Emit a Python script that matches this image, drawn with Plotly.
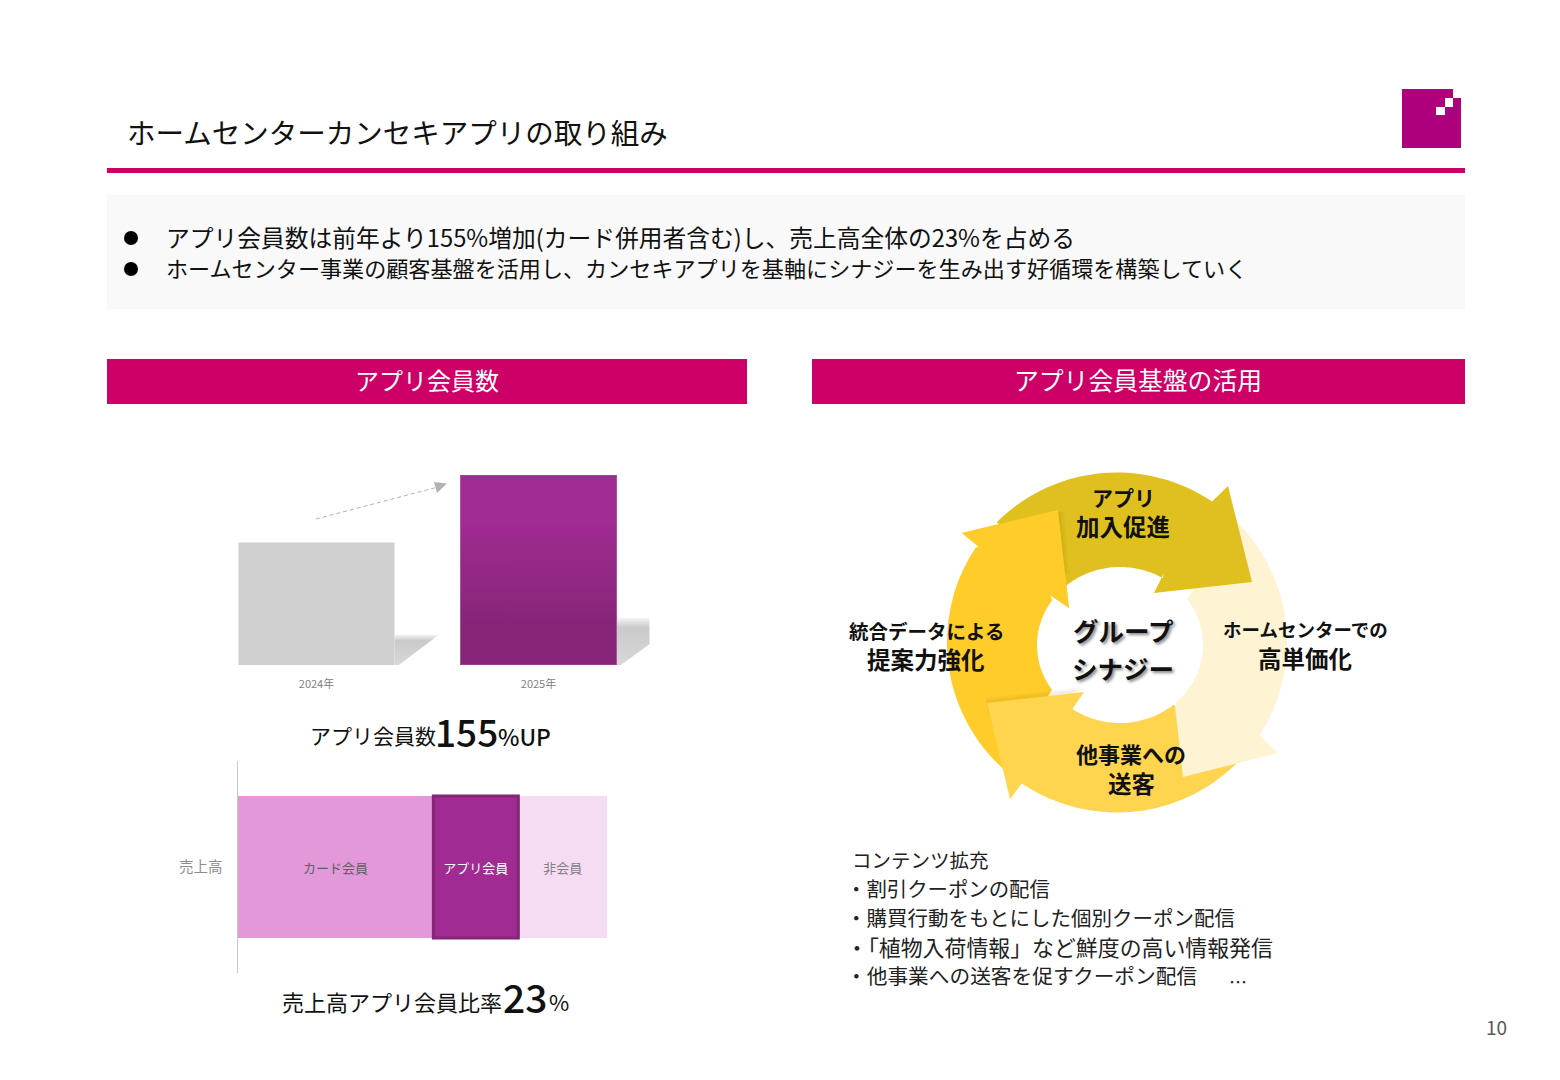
import numpy as np
import plotly.graph_objects as go

# ---------- data ----------
years = ["2024年", "2025年"]
members = [100, 155]
seg_names = ["カード会員", "アプリ会員", "非会員"]
seg_values = [53, 23, 24]
seg_category = ["売上高"]
title_text = "ホームセンターカンセキアプリの取り組み"
bullets = ["アプリ会員数は前年より155%増加(カード併用者含む)し、売上高全体の23%を占める",
           "ホームセンター事業の顧客基盤を活用し、カンセキアプリを基軸にシナジーを生み出す好循環を構築していく"]
contents = ["コンテンツ拡充", "・割引クーポンの配信", "・購買行動をもとにした個別クーポン配信",
            "・「植物入荷情報」など鮮度の高い情報発信", "・他事業への送客を促すクーポン配信"]

W, H = 1560, 1080
FONT = "Noto Sans CJK JP"
PINK = "#CC0066"
BLACK = "#111111"

fig = go.Figure()
shapes, notes = [], []


def rect(x0, y0, x1, y1, color, line=None, layer="below"):
    shapes.append(dict(type="rect", xref="x", yref="y", x0=x0, y0=y0, x1=x1, y1=y1, fillcolor=color,
                       line=dict(width=0) if line is None else line, layer=layer))


def poly(pts, color, opacity=1.0):
    d = "M " + " L ".join(f"{a:.1f},{b:.1f}" for a, b in pts) + " Z"
    shapes.append(dict(type="path", xref="x", yref="y", path=d, fillcolor=color, opacity=opacity,
                       line=dict(width=0), layer="below"))


def txt(x, y, s, size, color=BLACK, anchor="left", weight=400, shadow=None):
    f = dict(family=FONT, size=size, color=color, weight=weight)
    if shadow:
        f["shadow"] = shadow
    notes.append(dict(xref="x", yref="y", x=x, y=y - 2, text=s, showarrow=False, xanchor=anchor, yanchor="middle",
                      font=f, borderpad=0, borderwidth=0))


# ---------- slide furniture ----------
rect(1402, 89, 1461, 148, "#AE007C")
rect(1453, 89, 1462, 98, "#FFFFFF")
rect(1436, 107, 1445, 115, "#FFFFFF")
rect(1445, 98, 1453, 107, "#FFFFFF")
rect(107, 168, 1465, 173, PINK)
rect(107, 195, 1465, 309, "#F9F9F9")
rect(107, 359, 747, 404, PINK)
rect(812, 359, 1465, 404, PINK)

txt(127, 133, title_text, 28.5)
for yy, s, sz in zip((238, 269), bullets, (23.75, 22.1)):
    txt(165.5, yy, s, sz)
    shapes.append(dict(type="circle", xref="x", yref="y", x0=124, x1=138, y0=yy - 7, y1=yy + 7,
                       fillcolor="#000000", line=dict(width=0), layer="below"))
txt(427, 381, "アプリ会員数", 24, "#FFFFFF", "center")
txt(1138, 381, "アプリ会員基盤の活用", 24.8, "#FFFFFF", "center")
txt(1496, 1028, "10", 19, "#595959", "center")

# ---------- growth arrow ----------
shapes.append(dict(type="line", xref="x", yref="y", x0=316, y0=519, x1=438, y1=487,
                   line=dict(color="#B5B1B1", width=1, dash="4px,3px"), layer="below"))
poly([(447, 483.5), (434, 482), (437, 493)], "#B5B1B1")

# ---------- bar chart 1 ----------
x_pos = [0, 1]
bar_w = 0.703
fig.add_trace(go.Bar(x=x_pos, y=members, width=bar_w, xaxis="x2", yaxis="y2",
                     marker=dict(color=["#D0D0D0", "#8F2683"], line=dict(width=0)), hoverinfo="skip"))
SK = 0.247          # shadow height relative to bar
for p, v in zip(x_pos, members):
    r = p + bar_w / 2
    h = v * SK
    fig.add_trace(go.Scatter(x=[r, r, r + h * 0.0081, r + 0.02], y=[0, h, h, 0], mode="lines", line=dict(width=0),
                             fill="toself", xaxis="x2", yaxis="y2", hoverinfo="skip",
                             fillgradient=dict(type="vertical",
                                               colorscale=[[0, "#D8D8D8"], [0.8, "#CACACA"], [1, "#F4F4F4"]])))
# gradient skin over the 2025 bar
p, v = x_pos[1], members[1]
fig.add_trace(go.Scatter(x=[p - bar_w / 2, p + bar_w / 2, p + bar_w / 2, p - bar_w / 2], y=[0, 0, v, v],
                         mode="lines", line=dict(width=1, color="#B04FA4"), fill="toself", xaxis="x2", yaxis="y2",
                         hoverinfo="skip",
                         fillgradient=dict(type="vertical",
                                           colorscale=[[0, "#862577"], [0.2, "#862577"], [0.75, "#A02B92"],
                                                       [1, "#A02B92"]])))

# ---------- share bar ----------
bases = np.cumsum([0] + seg_values[:-1])
seg_colors = ["#E399D9", "#A02B92", "#F6DCF3"]
seg_text = ["#5F5F5F", "#FFFFFF", "#7F7F7F"]
seg_lines = [dict(width=0), dict(width=3, color="#862577"), dict(width=0)]
for i in (0, 2, 1):
    fig.add_trace(go.Bar(y=seg_category, x=[seg_values[i]], base=[bases[i]], orientation="h", name=seg_names[i],
                         xaxis="x3", yaxis="y3", marker=dict(color=seg_colors[i], line=seg_lines[i]),
                         text=[seg_names[i]], textposition="inside", insidetextanchor="middle",
                         textangle=0, constraintext="none",
                         textfont=dict(family=FONT, size=13, color=seg_text[i]), hoverinfo="skip"))

# ---------- captions ----------
txt(310, 737, "アプリ会員数", 21)
txt(435, 733, "155", 37, weight=500)
txt(498, 738, "%UP", 22.8, weight=500)
txt(282, 1003, "売上高アプリ会員比率", 22)
txt(503, 998, "23", 39, weight=500)
txt(549, 1003, "%", 22)

# ---------- cycle diagram ----------
CX, CY, RO = 1117, 642.5, 170
IX, IY, IRX, IRY = 1120, 645, 83, 78


def arc(a0, a1, n=40):
    """outer ring; angles in degrees, clockwise from 12 o'clock"""
    t = np.radians(np.linspace(a0, a1, n))
    return list(zip(CX + RO * np.sin(t), CY - RO * np.cos(t)))


def arc_in(a0, a1, n=40):
    """inner ring"""
    t = np.radians(np.linspace(a0, a1, n))
    return list(zip(IX + IRX * np.sin(t), IY - IRY * np.cos(t)))


LEFT_FILL, BOTTOM_FILL, RIGHT_FILL, TOP_FILL = "#FFCC29", "#FFD54F", "#FEF3D3", "#E0C01E"
left_head = [(979, 547), (962, 533), (1058, 510), (1069, 608), (1050, 595)]

# left arrow (tail goes under the bottom arrow)
poly(arc(222, 304) + left_head + arc_in(305, 235), LEFT_FILL)
# bottom arrow
for off, op in ((5, 0.05), (3, 0.06)):
    poly([(a - off * 0.3, b - off) for a, b in [(987, 703), (1084, 692), (1070, 700), (990, 720)]], "#7A6200", op)
poly([(987, 703), (1010, 799), (1023, 782)] + arc(214, 130) + arc_in(140, 215) + [(1084, 692)], BOTTOM_FILL)
# right arrow
poly(arc(45, 123) + [(1278, 753), (1183, 777), (1172, 680), (1175, 707)] + arc_in(138, 54), RIGHT_FILL)
# top arrow
poly(arc(-45, 34) + [(1228, 486), (1252, 582), (1154, 593), (1164, 573)] + arc_in(31, -40), TOP_FILL)
# left arrow head overlapping the top arrow, with a soft shadow
shade = [(1058, 510), (1063, 572), (1040, 572), (1000, 525)]
for off, op in ((6, 0.05), (4, 0.06), (2, 0.08)):
    poly([(a + off, b + off * 0.3) for a, b in shade], "#7A6200", op)
poly(left_head + arc_in(305, 285) + arc(285, 304), LEFT_FILL)

txt(1123, 499, "アプリ", 21, anchor="center", weight=700)
txt(1123, 528, "加入促進", 23.5, anchor="center", weight=700)
txt(926, 632, "統合データによる", 19.5, anchor="center", weight=700)
txt(926, 661, "提案力強化", 23.5, anchor="center", weight=700)
txt(1305, 631, "ホームセンターでの", 18.5, anchor="center", weight=700)
txt(1305, 660, "高単価化", 23.5, anchor="center", weight=700)
txt(1131, 755, "他事業への", 22, anchor="center", weight=700)
txt(1131, 785, "送客", 23.5, anchor="center", weight=700)
txt(1123, 631, "グループ", 25.5, anchor="center", weight=700, shadow="2px 2px 3px #8a8a8a")
txt(1123, 669, "シナジー", 25.5, anchor="center", weight=700, shadow="2px 2px 3px #8a8a8a")

for yy, s, xx, sz in zip((861, 890, 919, 948, 977), contents, (852, 846, 846, 846, 846), (19.5, 20.4, 20.5, 21.9, 20.7)):
    txt(xx, yy, s, sz, "#222222")
txt(1238, 983, "…", 18, "#222222", "center")

# ---------- layout ----------


def xd(a, b):
    return [a / W, b / W]


def yd(a, b):
    return [1 - b / H, 1 - a / H]


fig.update_layout(
    width=W, height=H, margin=dict(l=0, r=0, t=0, b=0), paper_bgcolor="#FFFFFF", plot_bgcolor="rgba(0,0,0,0)",
    showlegend=False, barmode="overlay", shapes=shapes, annotations=notes,
    xaxis=dict(domain=[0, 1], range=[0, W], visible=False, fixedrange=True),
    yaxis=dict(domain=[0, 1], range=[H, 0], visible=False, fixedrange=True),
    xaxis2=dict(domain=xd(205.5, 649.5), range=[-0.5, 1.5], tickmode="array", tickvals=x_pos, ticktext=years,
                showgrid=False, zeroline=False, showline=False, ticks="", anchor="y2",
                tickfont=dict(family=FONT, size=11, color="#7F7F7F"), ticklabelstandoff=11),
    yaxis2=dict(domain=yd(475, 665), range=[0, 155], visible=False, anchor="x2"),
    xaxis3=dict(domain=xd(237.5, 607), range=[0, 100], visible=False, anchor="y3"),
    yaxis3=dict(domain=yd(761, 973), showgrid=False, zeroline=False, showline=True, linecolor="#C8C8C8", linewidth=1,
                ticks="", anchor="x3", tickfont=dict(family=FONT, size=14.5, color="#8C8C8C"), ticklabelstandoff=11),
    bargap=0.33,
)
fig.write_html("out.html", config=dict(displayModeBar=False),
               post_script="document.body.style.margin='0';")
